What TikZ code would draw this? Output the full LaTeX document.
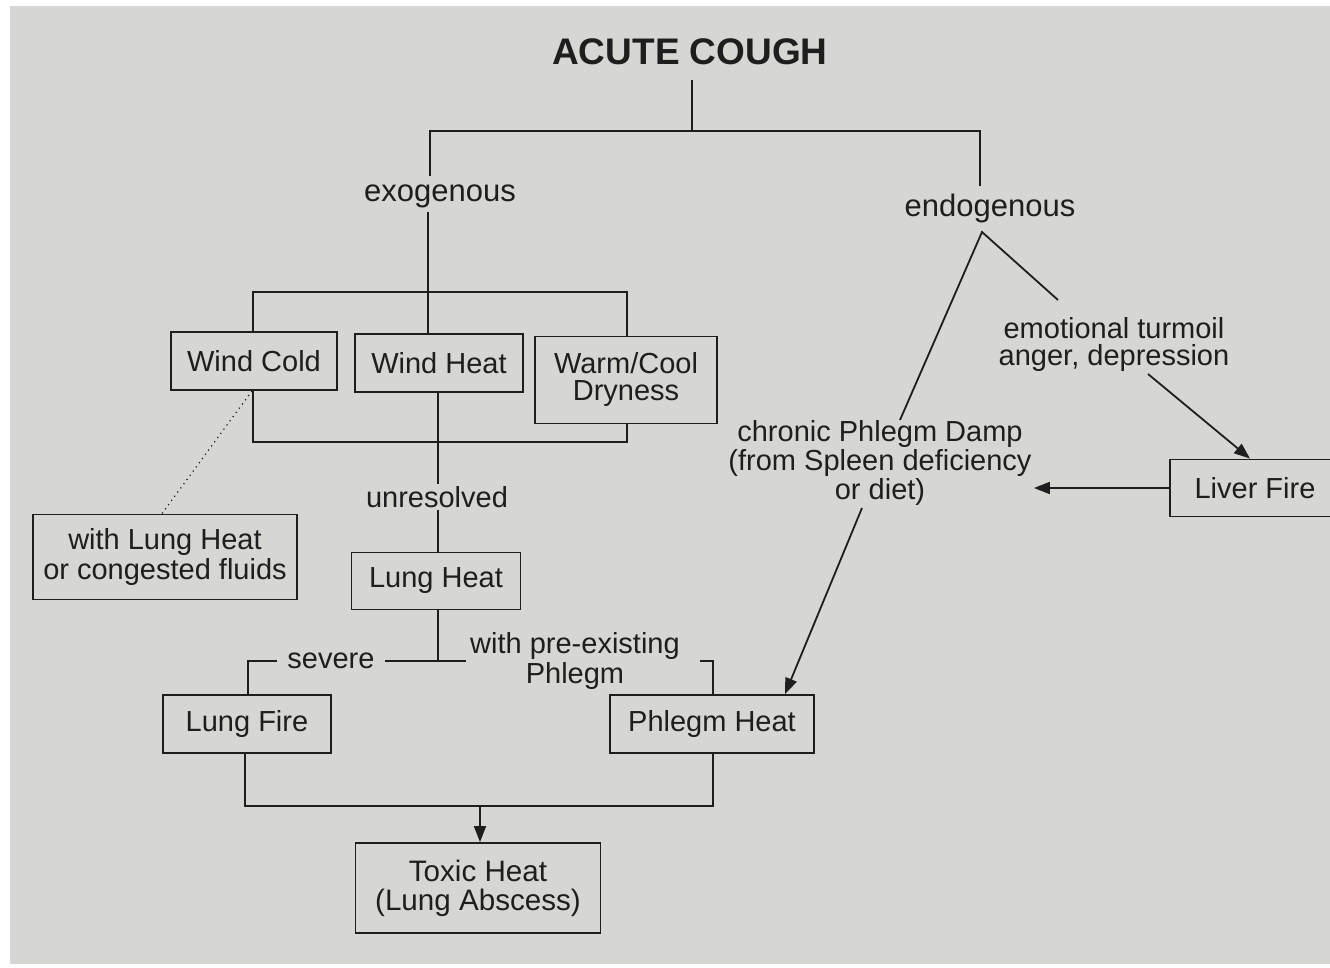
\documentclass[tikz,border=0pt]{standalone}
\usepackage{fontspec}
\setmainfont{Liberation Sans}
\usetikzlibrary{arrows.meta}
\definecolor{paper}{RGB}{214,214,210}
\definecolor{ink}{RGB}{30,30,30}
\begin{document}
\begin{tikzpicture}[x=0.5pt,y=-0.5pt,
  every node/.style={text=ink, font=\fontsize{14.5}{13.5}\selectfont, align=center, inner sep=1pt},
  box/.style={draw=ink, line width=0.9pt, rectangle, inner sep=0pt},
  lbl/.style={fill=paper, inner sep=5pt},
  conn/.style={draw=ink, line width=0.9pt},
  arr/.style={conn, -{Triangle[length=8pt,width=6pt]}}]
\useasboundingbox (0,0) rectangle (1330,968);
\fill[white] (0,0) rectangle (1330,968);
\fill[paper] (10,6) rectangle (1330,964);

% nodes
\node[font=\fontsize{18.5}{20}\selectfont\bfseries] (title) at (690,52) {ACUTE COUGH};
\node[font=\fontsize{15.5}{16}\selectfont] (exo) at (440,196) {exogenous};
\node[font=\fontsize{15.5}{16}\selectfont] (endo) at (990,208) {endogenous};
\node[box, minimum width=83pt, minimum height=29pt] (windcold) at (254,361) {Wind Cold};
\node[box, minimum width=84pt, minimum height=29pt] (windheat) at (439,363) {Wind Heat};
\node[box, minimum width=91pt, minimum height=43.5pt] (warmcool) at (626,380) {Warm/Cool\\Dryness};
\node[box, minimum width=132pt, minimum height=42.5pt] (withlung) at (165,557) {with Lung Heat\\or congested fluids};
\node (unres) at (437,497) {unresolved};
\node[box, minimum width=84.5pt, minimum height=28.5pt] (lungheat) at (436,581) {Lung Heat};
\node[box, minimum width=84pt, minimum height=29pt] (lungfire) at (247,724) {Lung Fire};
\node[box, minimum width=102pt, minimum height=29pt] (phlegmheat) at (712,724) {Phlegm Heat};
\node[box, minimum width=122.5pt, minimum height=45pt, font=\fontsize{14.8}{14.5}\selectfont] (toxic) at (478,888) {Toxic Heat\\(Lung Abscess)};
\node (emo) at (1114,345) {emotional turmoil\\anger, depression};
\node (chronic) at (880,463) {chronic Phlegm Damp\\(from Spleen deficiency\\or diet)};
\node[box, minimum width=85pt, minimum height=28.5pt] (liver) at (1255,488) {Liver Fire};

% exogenous tree
\coordinate (jtop) at (692,131);
\draw[conn] (692,80) -- (jtop);
\draw[conn] (430,176) |- (jtop) -| (980,186);
\draw[conn] (428,212) -- (428,334);
\draw[conn] (windcold.north -| 253,0) |- (627,292) -- (warmcool.north -| 627,0);
\draw[conn] (windcold.south -| 253,0) |- (627,442) -- (warmcool.south -| 627,0);
\draw[dotted, ink, line width=0.6pt] (windcold.south -| 252,0) -- (withlung.north -| 162,0);
\draw[conn] (windheat.south -| 438,0) -- (unres.north -| 438,0);
\draw[conn] (unres.south -| 438,0) -- (lungheat.north -| 438,0);
\draw[conn] (lungheat.south -| 438,0) -- (438,661);
\draw[conn] (lungfire.north -| 248,0) |- (466,661);
\draw[conn] (700,661) -| (phlegmheat.north -| 713,0);
\draw[conn] (lungfire.south -| 245,0) |- (713,806) -- (phlegmheat.south -| 713,0);
\draw[arr] (480,806) -- (toxic.north -| 480,0);
\node[lbl] (severe) at (331,661) {severe};
\node (preex) at (575,661) {with pre-existing\\Phlegm};

% endogenous tree
\coordinate (apex) at (982,232);
\draw[conn] (900,420) -- (apex) -- (1058,300);
\draw[arr] (1148,374) -- (liver.north -| 1250,0);
\draw[arr] (liver.west) -- (liver.west -| chronic.east);
\draw[arr] (862,508) -- (phlegmheat.north -| 785,0);
\end{tikzpicture}
\end{document}
